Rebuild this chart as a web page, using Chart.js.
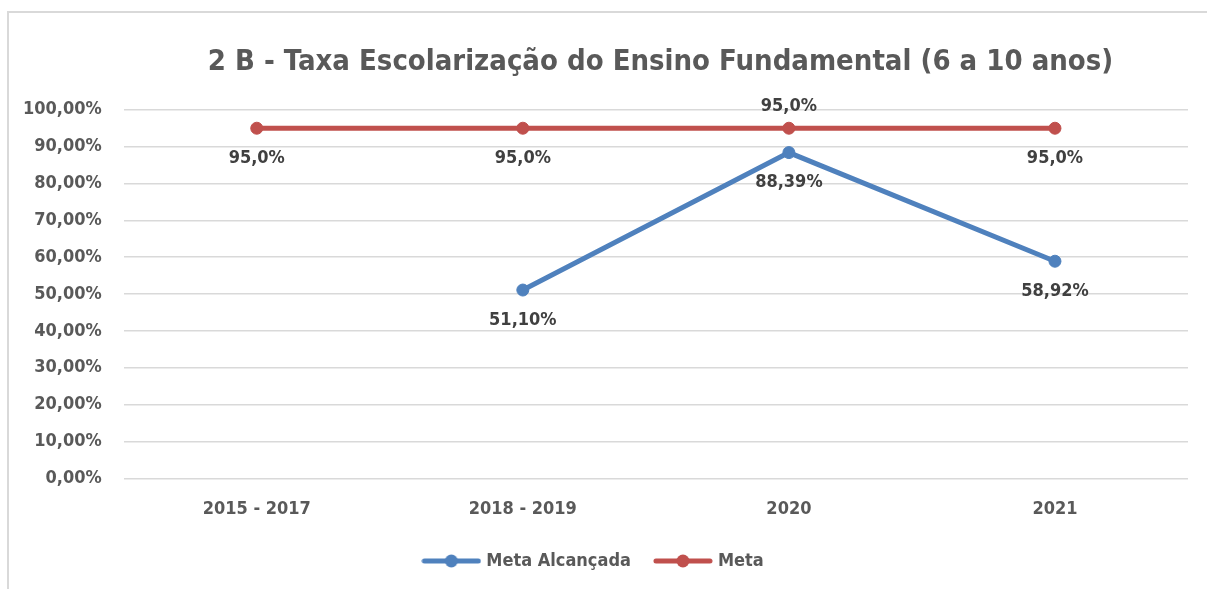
<!DOCTYPE html>
<html>
<head>
<meta charset="utf-8">
<script src="https://cdn.jsdelivr.net/npm/chart.js@4.4.1/dist/chart.umd.min.js"></script>
<style>
  body { margin: 0; background: #fff; overflow: hidden; }
  #frame { position: absolute; left: 7px; top: 11px; width: 1240px; height: 620px; border: 2px solid #d9d9d9; }
  #wrap { position: absolute; left: 0; top: 0; width: 1207px; height: 589px; }
</style>
</head>
<body>
<div id="frame"></div>
<div id="wrap"><canvas id="chart"></canvas></div>
<script>
const categories = ['2015 - 2017', '2018 - 2019', '2020', '2021'];
const metaAlcancada = [null, 51.10, 88.39, 58.92];
const meta = [95.0, 95.0, 95.0, 95.0];

const FONT = "'Liberation Sans Narrow', 'Arial Narrow', 'DejaVu Sans Condensed', sans-serif";
const BLUE = '#4f81bd';
const RED = '#c0504d';

// legend marker: short thick line with a dot in the middle
function legendMarker(color) {
    const c = document.createElement('canvas');
    c.width = 60; c.height = 16;
    const g = c.getContext('2d');
    g.strokeStyle = color;
    g.lineWidth = 5;
    g.lineCap = 'round';
    g.beginPath(); g.moveTo(3, 8); g.lineTo(57, 8); g.stroke();
    g.fillStyle = color;
    g.beginPath(); g.arc(30, 8, 6.5, 0, Math.PI * 2); g.fill();
    return c;
}

// value labels drawn next to each point
const valueLabels = {
    id: 'valueLabels',
    afterDatasetsDraw(chart) {
        const ctx = chart.ctx;
        ctx.save();
        ctx.font = 'bold 18px ' + FONT;
        ctx.fillStyle = '#404040';
        ctx.textAlign = 'center';
        ctx.textBaseline = 'middle';
        chart.data.datasets.forEach((ds, i) => {
            const meta = chart.getDatasetMeta(i);
            meta.data.forEach((pt, j) => {
                const v = ds.data[j];
                if (v === null || v === undefined) return;
                const above = ds.labelPos && ds.labelPos[j] === 'above';
                const y = above ? pt.y - 22 : pt.y + 30;
                ctx.fillText(ds.fmt(v), pt.x, y);
            });
        });
        ctx.restore();
    }
};

// the title sits a bit right of centre, over the plot area
const shiftTitle = {
    id: 'shiftTitle',
    afterLayout(chart) {
        const t = chart.titleBlock;
        if (t) { t.left += 66; t.right += 66; }
    }
};

new Chart(document.getElementById('chart'), {
    type: 'line',
    data: {
        labels: categories,
        datasets: [
            {
                label: 'Meta Alcançada',
                data: metaAlcancada,
                borderColor: BLUE,
                backgroundColor: BLUE,
                borderWidth: 5,
                pointRadius: 6,
                pointHoverRadius: 6,
                pointBorderWidth: 1,
                pointStyle: 'circle',
                fmt: v => v.toFixed(2).replace('.', ',') + '%'
            },
            {
                label: 'Meta',
                data: meta,
                borderColor: RED,
                backgroundColor: RED,
                borderWidth: 5,
                pointRadius: 6,
                pointHoverRadius: 6,
                pointBorderWidth: 1,
                pointStyle: 'circle',
                labelPos: ['below', 'below', 'above', 'below'],
                fmt: v => v.toFixed(1).replace('.', ',') + '%'
            }
        ]
    },
    options: {
        responsive: true,
        maintainAspectRatio: false,
        animation: false,
        layout: { padding: { left: 1, right: 19, top: 45, bottom: 9 } },
        plugins: {
            title: {
                display: true,
                text: '2 B - Taxa Escolarização do Ensino Fundamental (6 a 10 anos)',
                color: '#595959',
                font: { family: FONT, size: 29, weight: 'bold' },
                padding: { top: 0, bottom: 30 }
            },
            legend: {
                position: 'bottom',
                labels: {
                    usePointStyle: true,
                    pointStyleWidth: 52,
                    color: '#595959',
                    font: { family: FONT, size: 18, weight: 'bold' },
                    padding: 26,
                    generateLabels(chart) {
                        return chart.data.datasets.map((ds, i) => ({
                            text: ds.label,
                            pointStyle: legendMarker(ds.borderColor),
                            fillStyle: ds.borderColor,
                            strokeStyle: ds.borderColor,
                            lineWidth: 0,
                            fontColor: '#595959',
                            datasetIndex: i
                        }));
                    }
                }
            },
            tooltip: { enabled: false }
        },
        scales: {
            x: {
                offset: true,
                grid: { display: false },
                border: { display: false },
                afterFit(scale) { scale.height -= 6; },
                ticks: {
                    color: '#595959',
                    font: { family: FONT, size: 18, weight: 'bold' },
                    padding: 12
                }
            },
            y: {
                min: 0,
                max: 100,
                grid: { color: '#d9d9d9', lineWidth: 1.5, drawTicks: false },
                border: { display: false },
                ticks: {
                    stepSize: 10,
                    color: '#595959',
                    font: { family: FONT, size: 18, weight: 'bold' },
                    padding: 22,
                    callback: v => v.toFixed(2).replace('.', ',') + '%'
                }
            }
        }
    },
    plugins: [valueLabels, shiftTitle]
});
</script>
</body>
</html>
